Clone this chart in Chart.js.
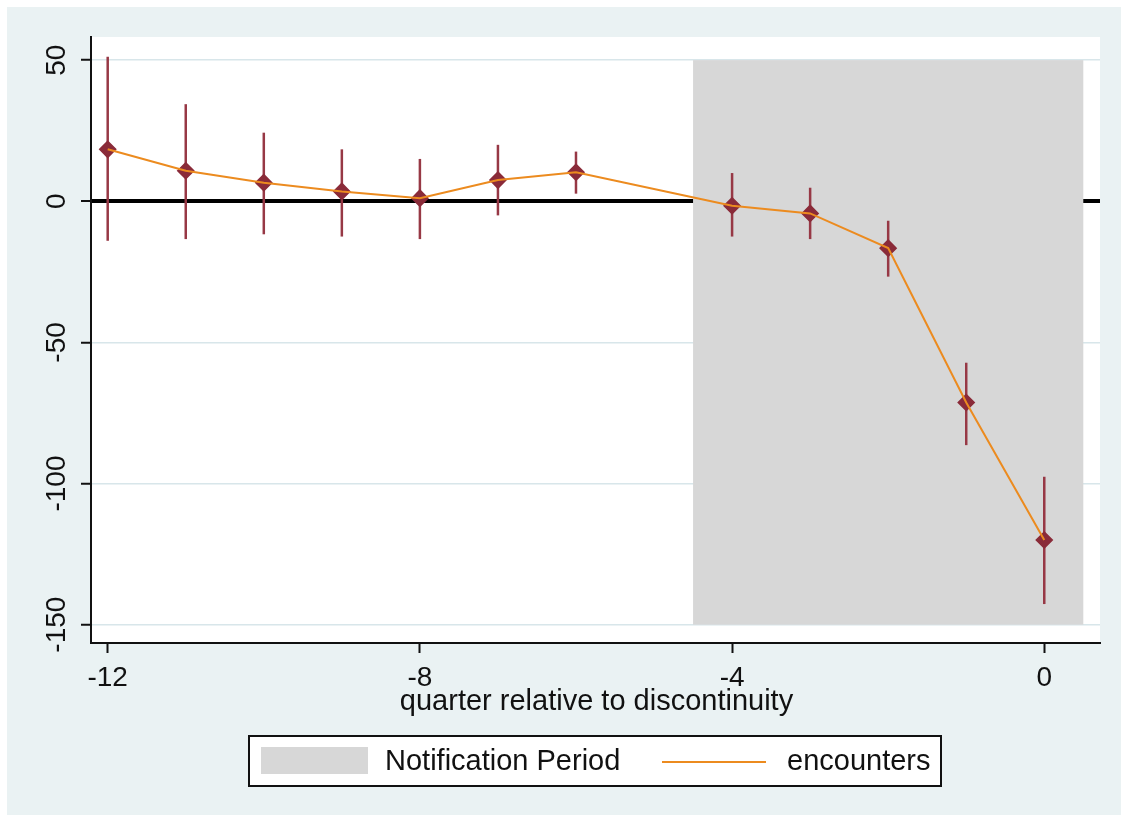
<!DOCTYPE html>
<html>
<head>
<meta charset="utf-8">
<script src="https://cdn.jsdelivr.net/npm/chart.js@4.4.1/dist/chart.umd.min.js"></script>
<style>
  html, body { margin: 0; padding: 0; background: #ffffff; }
  canvas { display: block; }
</style>
</head>
<body>
<canvas id="chart" width="1121" height="822"></canvas>
<script>
// Event-study estimates by quarter relative to the discontinuity
const quarters  = [-12, -11, -10, -9, -8, -7, -6, -4, -3, -2, -1, 0];
const estimates = [18.4, 10.8, 6.6, 3.5, 1.1, 7.5, 10.3, -1.6, -4.3, -16.6, -71.3, -120.0];
const ciHigh    = [51.2, 34.4, 24.3, 18.4, 15.0, 20.0, 17.6, 10.0, 4.8, -6.9, -57.2, -97.6];
const ciLow     = [-14.0, -13.4, -11.7, -12.5, -13.4, -5.0, 2.7, -12.5, -13.4, -26.7, -86.4, -142.7];

// Axis ticks
const xTicks = [-12, -8, -4, 0];
const yTicks = [-150, -100, -50, 0, 50];

// Notification period band (x range and y range)
const notificationPeriod = [-4.5, 0.5];
const bandRange = [-150, 50];

const seriesName = 'encounters';
const bandName = 'Notification Period';
const xTitle = 'quarter relative to discontinuity';

const FONT = '"Liberation Sans", Arial, sans-serif';
const TEXT = '#111111';
const ORANGE = '#EC8B1F';
const MARKER = '#8A2B39';
const CI_COLOR = '#973845';
const BAND = '#D7D7D7';
const OUTER = '#EAF2F3';
const GRID = '#D8E6EA';

const points = quarters.map((q, i) => ({ x: q, y: estimates[i] }));

const stataLayer = {
  id: 'stataLayer',
  beforeDraw(chart) {
    const { ctx, chartArea: a } = chart;
    ctx.save();
    ctx.fillStyle = '#ffffff';
    ctx.fillRect(0, 0, chart.width, chart.height);
    ctx.fillStyle = OUTER;
    ctx.fillRect(7, 7, chart.width - 7, 808);
    ctx.fillStyle = '#ffffff';
    ctx.fillRect(a.left, a.top, a.right - a.left, a.bottom - a.top);
    ctx.restore();
  },
  beforeDatasetsDraw(chart) {
    const { ctx, scales: { x, y } } = chart;
    ctx.save();
    // shaded notification period
    const x0 = x.getPixelForValue(notificationPeriod[0]);
    const x1 = x.getPixelForValue(notificationPeriod[1]);
    const y0 = y.getPixelForValue(bandRange[1]);
    const y1 = y.getPixelForValue(bandRange[0]);
    ctx.fillStyle = BAND;
    ctx.fillRect(x0, y0, x1 - x0, y1 - y0);
    // confidence intervals
    ctx.strokeStyle = CI_COLOR;
    ctx.lineWidth = 2.5;
    quarters.forEach((q, i) => {
      const px = x.getPixelForValue(q);
      ctx.beginPath();
      ctx.moveTo(px, y.getPixelForValue(ciHigh[i]));
      ctx.lineTo(px, y.getPixelForValue(ciLow[i]));
      ctx.stroke();
    });
    ctx.restore();
  },
  afterDraw(chart) {
    const { ctx, chartArea: a, scales: { y } } = chart;
    ctx.save();
    ctx.fillStyle = TEXT;
    // vertical y tick labels
    ctx.font = '28px ' + FONT;
    ctx.textAlign = 'center';
    ctx.textBaseline = 'alphabetic';
    y.ticks.forEach(t => {
      const py = y.getPixelForValue(t.value);
      ctx.save();
      ctx.translate(65, py);
      ctx.rotate(-Math.PI / 2);
      ctx.fillText(String(t.value), 0, 0);
      ctx.restore();
    });
    // x axis title
    ctx.font = '29px ' + FONT;
    ctx.fillText(xTitle, (a.left + a.right) / 2 + 1, 710);
    // legend box
    ctx.fillStyle = '#ffffff';
    ctx.fillRect(249, 736, 692, 50);
    ctx.strokeStyle = '#111111';
    ctx.lineWidth = 2;
    ctx.strokeRect(249, 736, 692, 50);
    ctx.fillStyle = BAND;
    ctx.fillRect(261, 747, 107, 27);
    ctx.strokeStyle = ORANGE;
    ctx.lineWidth = 2;
    ctx.beginPath();
    ctx.moveTo(662, 762);
    ctx.lineTo(766, 762);
    ctx.stroke();
    ctx.fillStyle = TEXT;
    ctx.textAlign = 'left';
    ctx.fillText(bandName, 385, 770);
    ctx.fillText(seriesName, 787, 770);
    ctx.restore();
  }
};

new Chart(document.getElementById('chart'), {
  type: 'line',
  data: {
    datasets: [
      {
        label: seriesName,
        data: points,
        borderColor: ORANGE,
        borderWidth: 2,
        pointRadius: 0,
        tension: 0,
        fill: false,
        order: 0
      },
      {
        type: 'scatter',
        label: seriesName + ' estimate',
        data: points,
        pointStyle: 'rectRot',
        pointRadius: 8,
        backgroundColor: MARKER,
        borderColor: MARKER,
        borderWidth: 1.5,
        showLine: false,
        order: 1
      }
    ]
  },
  options: {
    responsive: false,
    animation: false,
    layout: { padding: { left: 0, top: 37, right: 21, bottom: 0 } },
    plugins: { legend: { display: false }, tooltip: { enabled: false } },
    scales: {
      x: {
        type: 'linear',
        min: -12.214,
        max: 0.714,
        afterBuildTicks: s => { s.ticks = xTicks.map(v => ({ value: v })); },
        afterFit: s => { s.height = 179; },
        grid: { drawOnChartArea: false, drawTicks: true, tickLength: 10, tickColor: '#111111', tickWidth: 2 },
        border: { display: true, color: '#111111', width: 2 },
        ticks: { color: TEXT, font: { family: FONT, size: 28 }, padding: 8, maxRotation: 0, autoSkip: false }
      },
      y: {
        type: 'linear',
        min: -156.5,
        max: 58.2,
        afterBuildTicks: s => { s.ticks = yTicks.map(v => ({ value: v })); },
        afterFit: s => { s.width = 91; },
        grid: {
          color: c => (c.tick && c.tick.value === 0 ? '#000000' : GRID),
          lineWidth: c => (c.tick && c.tick.value === 0 ? 4 : 1.5),
          drawTicks: true,
          tickLength: 10,
          tickColor: '#111111',
          tickWidth: 2
        },
        border: { display: true, color: '#111111', width: 2 },
        ticks: { display: false }
      }
    }
  },
  plugins: [stataLayer]
});
</script>
</body>
</html>
